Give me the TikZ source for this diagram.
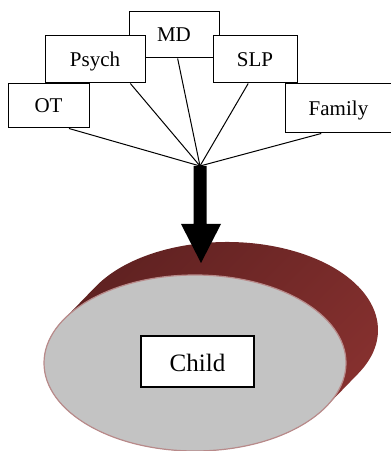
\documentclass[tikz,border=0pt]{standalone}
\usepackage{fontspec}
\setmainfont{Liberation Serif}
\usetikzlibrary{calc}
\definecolor{rimdark}{RGB}{92,32,32}
\definecolor{rimlight}{RGB}{138,50,48}
\definecolor{discgray}{RGB}{195,195,195}
\definecolor{discedge}{RGB}{184,138,138}
\tikzset{
  rolebox/.style={draw=black, fill=white, line width=1pt, inner sep=0pt,
    font=\fontsize{21}{24}\selectfont, text height=13.9pt, text depth=0pt},
  link/.style={draw=black, line width=1pt},
  childbox/.style={draw=black, fill=white, line width=1.3pt, inner sep=0pt,
    minimum width=113pt, minimum height=51pt,
    font=\fontsize{25}{28}\selectfont, text height=20.5pt, text depth=0pt},
}
\begin{document}
\begin{tikzpicture}[x=1pt,y=1pt]
\useasboundingbox (0,0) rectangle (391,451);
% disc (child)
\coordinate (F) at (195,88);
\coordinate (B) at (227,121);
\path[shading=axis, top color=rimdark, bottom color=rimlight, shading angle=45]
  ($(F)+(-29.47:151 and 88)$) -- ($(B)+(-29.47:151 and 88)$)
  arc[start angle=-29.47, end angle=150.53, x radius=151, y radius=88]
  -- ($(F)+(150.53:151 and 88)$)
  arc[start angle=150.53, end angle=330.53, x radius=151, y radius=88] -- cycle;
\draw[fill=discgray, draw=discedge, line width=1.2pt] (F) ellipse[x radius=151, y radius=88];
\node[childbox] (child) at (197.5,89.5) {Child\hspace{13pt}};
% hub and arrow
\coordinate (hub) at (200,285);
\coordinate (tip) at (201,188);
\fill[black] ($(hub)+(-6.5,0)$) -- ($(hub)+(6.5,0)$) -- ($(hub)+(6.5,-58)$)
  -- ($(hub)+(21,-58)$) -- (tip) -- ($(hub)+(-19,-58)$) -- ($(hub)+(-6.5,-58)$) -- cycle;
% boxes
\node[rolebox, minimum width=90pt, minimum height=46pt] (MD) at (174,416) {MD};
\node[rolebox, minimum width=100pt, minimum height=47pt] (Psych) at (95,391.5) {Psych};
\node[rolebox, minimum width=84pt, minimum height=47pt] (SLP) at (255,391.5) {SLP};
\node[rolebox, minimum width=81pt, minimum height=44pt] (OT) at (48.5,345) {OT};
\node[rolebox, minimum width=107pt, minimum height=49pt] (Family) at (338.5,342.5) {Family};
% connectors
\draw[link] ($(OT.south west)!0.75!(OT.south east)$) -- (hub);
\draw[link] ($(Psych.south west)!0.85!(Psych.south east)$) -- (hub);
\draw[link] ($(MD.south west)!0.54!(MD.south east)$) -- (hub);
\draw[link] ($(SLP.south west)!0.42!(SLP.south east)$) -- (hub);
\draw[link] ($(Family.south west)!0.34!(Family.south east)$) -- (hub);
\end{tikzpicture}
\end{document}
